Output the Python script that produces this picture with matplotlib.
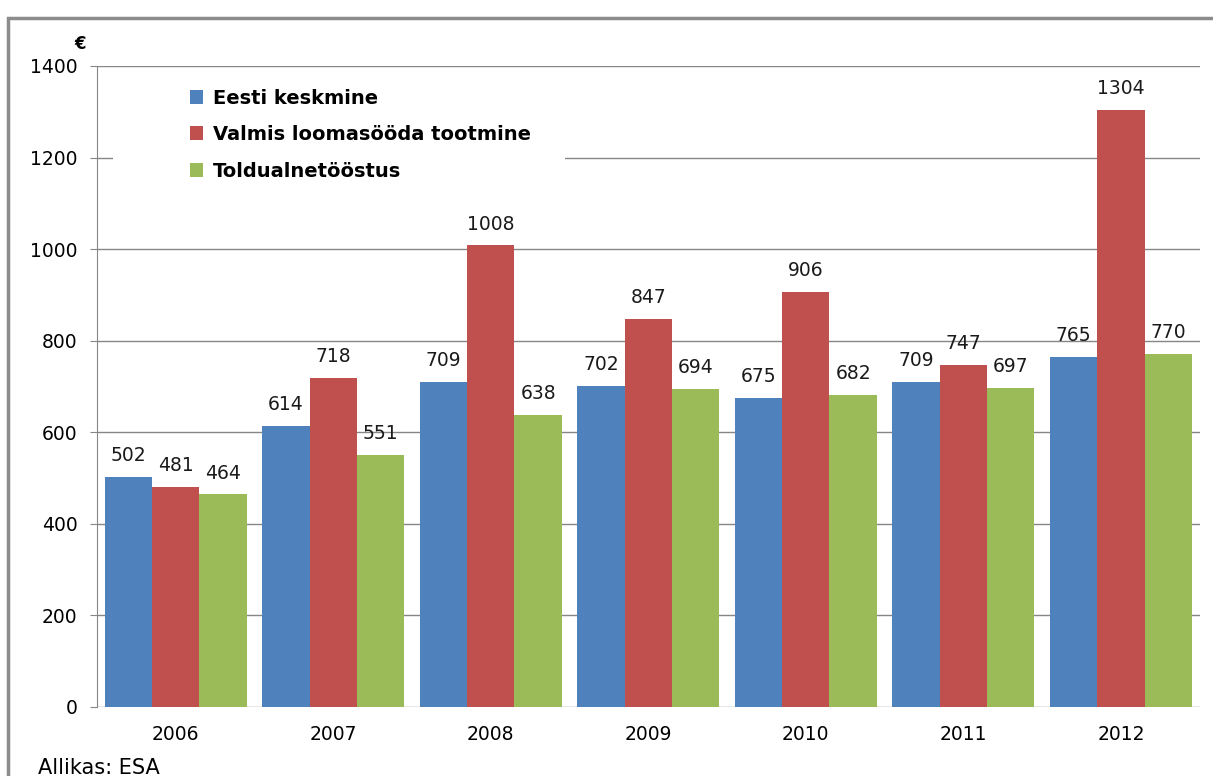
import matplotlib.pyplot as plt
import matplotlib.patches as patches
import numpy as np

# step 1 data
years = ["2006", "2007", "2008", "2009", "2010", "2011", "2012"]
eesti = [502, 614, 709, 702, 675, 709, 765]
loomasoot = [481, 718, 1008, 847, 906, 747, 1304]
toiduaine = [464, 551, 638, 694, 682, 697, 770]
series_names = ["Eesti keskmine", "Valmis loomasööda tootmine", "Toldualnetööstus"]
colors = ["#4F81BD", "#C0504D", "#9BBB59"]

# step 2 create plot
fig = plt.figure(figsize=(12.13, 7.76), dpi=100)
ax = fig.add_axes([0.080, 0.089, 0.909, 0.826])

# outer gray frame
frame = patches.Rectangle((8 / 1213, -0.05), 1.1, 1 - 18 / 776 + 0.05,
                          transform=fig.transFigure, fill=False,
                          edgecolor="#8c8c8c", linewidth=2.5)
fig.patches.append(frame)

x = np.arange(len(years))
w = 0.3
for i, (vals, name, c) in enumerate(zip([eesti, loomasoot, toiduaine], series_names, colors)):
    bars = ax.bar(x + (i - 1) * w, vals, w, color=c, label=name, zorder=3)
    for b, v in zip(bars, vals):
        ax.text(b.get_x() + b.get_width() / 2, v + 26, str(v), ha="center",
                va="bottom", fontsize=13.5, color="#1a1a1a", zorder=4)

ax.set_xlim(-0.5, len(years) - 0.5)
ax.set_ylim(0, 1400)
ax.set_yticks(range(0, 1401, 200))
ax.set_xticks(x)
ax.set_xticklabels(years)
ax.tick_params(axis="y", length=5, color="#868686", labelsize=13.5, pad=9)
ax.tick_params(axis="x", length=0, labelsize=13.5, pad=13)
ax.grid(axis="y", color="#868686", linewidth=1, zorder=0)
for s in ["top", "right", "bottom"]:
    ax.spines[s].set_visible(False)
ax.spines["left"].set_color("#868686")

# white box behind legend (covers gridline like Excel)
ax.add_patch(patches.Rectangle((16 / 1103, 0.72), (565 - 113) / 1103, 0.25,
                               transform=ax.transAxes, facecolor="white",
                               edgecolor="none", zorder=2))
leg = ax.legend(loc="upper left", bbox_to_anchor=(0.068, 0.992), frameon=False,
                prop={"weight": "bold", "size": 14}, handlelength=0.7,
                handleheight=0.7, handletextpad=0.5, labelspacing=0.9)
leg.set_zorder(5)

fig.text(80 / 1213, 1 - 44 / 776, "€", fontsize=12, fontweight="bold", ha="center", va="center")
fig.text(38 / 1213, 1 - 768 / 776, "Allikas: ESA", fontsize=15, ha="left", va="center")

# step 3 save
plt.savefig("out.png", dpi=100)
